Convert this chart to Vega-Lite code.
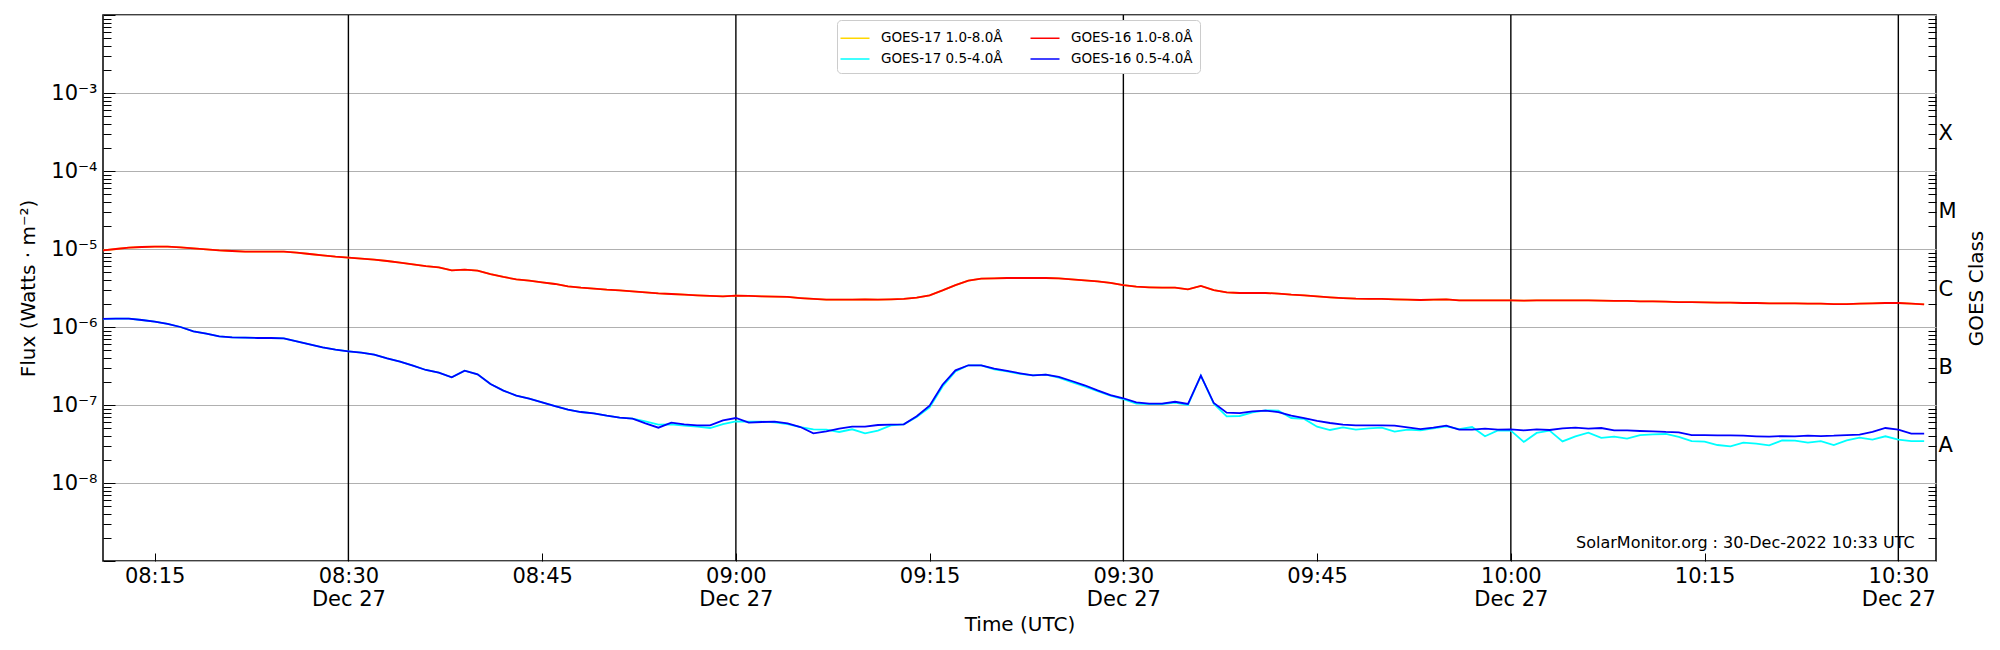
{
  "$schema": "https://vega.github.io/schema/vega-lite/v6.json",
  "width": 1833,
  "height": 546,
  "autosize": "none",
  "padding": {"left": 103, "top": 15, "right": 64, "bottom": 89},
  "background": "white",
  "config": {
    "font": "DejaVu Sans",
    "view": {"stroke": "black", "strokeWidth": 1.5},
    "axis": {"labelColor": "black", "titleColor": "black", "tickColor": "black", "titleFontWeight": "normal", "labelFont": "DejaVu Sans", "titleFont": "DejaVu Sans"}
  },
  "data": {
    "values": [
      {"t": "2022-12-27T08:11:00Z", "g17l": 9.61e-6, "g16l": 9.61e-6, "g17s": 1.27e-6, "g16s": 1.27e-6},
      {"t": "2022-12-27T08:12:00Z", "g17l": 1.0e-5, "g16l": 1.0e-5, "g17s": 1.28e-6, "g16s": 1.28e-6},
      {"t": "2022-12-27T08:13:00Z", "g17l": 1.04e-5, "g16l": 1.04e-5, "g17s": 1.28e-6, "g16s": 1.28e-6},
      {"t": "2022-12-27T08:14:00Z", "g17l": 1.061e-5, "g16l": 1.061e-5, "g17s": 1.23e-6, "g16s": 1.23e-6},
      {"t": "2022-12-27T08:15:00Z", "g17l": 1.071e-5, "g16l": 1.071e-5, "g17s": 1.17e-6, "g16s": 1.17e-6},
      {"t": "2022-12-27T08:16:00Z", "g17l": 1.071e-5, "g16l": 1.071e-5, "g17s": 1.1e-6, "g16s": 1.1e-6},
      {"t": "2022-12-27T08:17:00Z", "g17l": 1.05e-5, "g16l": 1.05e-5, "g17s": 1.0e-6, "g16s": 1.0e-6},
      {"t": "2022-12-27T08:18:00Z", "g17l": 1.02e-5, "g16l": 1.02e-5, "g17s": 8.8e-7, "g16s": 8.8e-7},
      {"t": "2022-12-27T08:19:00Z", "g17l": 9.9e-6, "g16l": 9.9e-6, "g17s": 8.22e-7, "g16s": 8.22e-7},
      {"t": "2022-12-27T08:20:00Z", "g17l": 9.61e-6, "g16l": 9.61e-6, "g17s": 7.59e-7, "g16s": 7.59e-7},
      {"t": "2022-12-27T08:21:00Z", "g17l": 9.43e-6, "g16l": 9.43e-6, "g17s": 7.37e-7, "g16s": 7.37e-7},
      {"t": "2022-12-27T08:22:00Z", "g17l": 9.24e-6, "g16l": 9.24e-6, "g17s": 7.3e-7, "g16s": 7.3e-7},
      {"t": "2022-12-27T08:23:00Z", "g17l": 9.24e-6, "g16l": 9.24e-6, "g17s": 7.23e-7, "g16s": 7.23e-7},
      {"t": "2022-12-27T08:24:00Z", "g17l": 9.24e-6, "g16l": 9.24e-6, "g17s": 7.23e-7, "g16s": 7.23e-7},
      {"t": "2022-12-27T08:25:00Z", "g17l": 9.24e-6, "g16l": 9.24e-6, "g17s": 7.16e-7, "g16s": 7.16e-7},
      {"t": "2022-12-27T08:26:00Z", "g17l": 8.97e-6, "g16l": 8.97e-6, "g17s": 6.55e-7, "g16s": 6.55e-7},
      {"t": "2022-12-27T08:27:00Z", "g17l": 8.63e-6, "g16l": 8.63e-6, "g17s": 6.0e-7, "g16s": 6.0e-7},
      {"t": "2022-12-27T08:28:00Z", "g17l": 8.29e-6, "g16l": 8.29e-6, "g17s": 5.48e-7, "g16s": 5.48e-7},
      {"t": "2022-12-27T08:29:00Z", "g17l": 7.97e-6, "g16l": 7.97e-6, "g17s": 5.12e-7, "g16s": 5.12e-7},
      {"t": "2022-12-27T08:30:00Z", "g17l": 7.74e-6, "g16l": 7.74e-6, "g17s": 4.88e-7, "g16s": 4.88e-7},
      {"t": "2022-12-27T08:31:00Z", "g17l": 7.52e-6, "g16l": 7.52e-6, "g17s": 4.69e-7, "g16s": 4.69e-7},
      {"t": "2022-12-27T08:32:00Z", "g17l": 7.3e-6, "g16l": 7.3e-6, "g17s": 4.42e-7, "g16s": 4.42e-7},
      {"t": "2022-12-27T08:33:00Z", "g17l": 7.02e-6, "g16l": 7.02e-6, "g17s": 3.97e-7, "g16s": 3.97e-7},
      {"t": "2022-12-27T08:34:00Z", "g17l": 6.68e-6, "g16l": 6.68e-6, "g17s": 3.6e-7, "g16s": 3.6e-7},
      {"t": "2022-12-27T08:35:00Z", "g17l": 6.36e-6, "g16l": 6.36e-6, "g17s": 3.19e-7, "g16s": 3.19e-7},
      {"t": "2022-12-27T08:36:00Z", "g17l": 6.05e-6, "g16l": 6.05e-6, "g17s": 2.81e-7, "g16s": 2.81e-7},
      {"t": "2022-12-27T08:37:00Z", "g17l": 5.82e-6, "g16l": 5.82e-6, "g17s": 2.6e-7, "g16s": 2.6e-7},
      {"t": "2022-12-27T08:38:00Z", "g17l": 5.33e-6, "g16l": 5.33e-6, "g17s": 2.26e-7, "g16s": 2.26e-7},
      {"t": "2022-12-27T08:39:00Z", "g17l": 5.43e-6, "g16l": 5.43e-6, "g17s": 2.75e-7, "g16s": 2.75e-7},
      {"t": "2022-12-27T08:40:00Z", "g17l": 5.28e-6, "g16l": 5.28e-6, "g17s": 2.47e-7, "g16s": 2.47e-7},
      {"t": "2022-12-27T08:41:00Z", "g17l": 4.78e-6, "g16l": 4.78e-6, "g17s": 1.86e-7, "g16s": 1.86e-7},
      {"t": "2022-12-27T08:42:00Z", "g17l": 4.38e-6, "g16l": 4.38e-6, "g17s": 1.53e-7, "g16s": 1.53e-7},
      {"t": "2022-12-27T08:43:00Z", "g17l": 4.08e-6, "g16l": 4.08e-6, "g17s": 1.32e-7, "g16s": 1.32e-7},
      {"t": "2022-12-27T08:44:00Z", "g17l": 3.93e-6, "g16l": 3.93e-6, "g17s": 1.21e-7, "g16s": 1.21e-7},
      {"t": "2022-12-27T08:45:00Z", "g17l": 3.74e-6, "g16l": 3.74e-6, "g17s": 1.08e-7, "g16s": 1.08e-7},
      {"t": "2022-12-27T08:46:00Z", "g17l": 3.56e-6, "g16l": 3.56e-6, "g17s": 9.7e-8, "g16s": 9.7e-8},
      {"t": "2022-12-27T08:47:00Z", "g17l": 3.32e-6, "g16l": 3.32e-6, "g17s": 8.71e-8, "g16s": 8.71e-8},
      {"t": "2022-12-27T08:48:00Z", "g17l": 3.19e-6, "g16l": 3.19e-6, "g17s": 8.13e-8, "g16s": 8.13e-8},
      {"t": "2022-12-27T08:49:00Z", "g17l": 3.1e-6, "g16l": 3.1e-6, "g17s": 7.82e-8, "g16s": 7.82e-8},
      {"t": "2022-12-27T08:50:00Z", "g17l": 3.01e-6, "g16l": 3.01e-6, "g17s": 7.3e-8, "g16s": 7.3e-8},
      {"t": "2022-12-27T08:51:00Z", "g17l": 2.95e-6, "g16l": 2.95e-6, "g17s": 6.89e-8, "g16s": 6.89e-8},
      {"t": "2022-12-27T08:52:00Z", "g17l": 2.87e-6, "g16l": 2.87e-6, "g17s": 6.68e-8, "g16s": 6.68e-8},
      {"t": "2022-12-27T08:53:00Z", "g17l": 2.78e-6, "g16l": 2.78e-6, "g17s": 6.18e-8, "g16s": 5.82e-8},
      {"t": "2022-12-27T08:54:00Z", "g17l": 2.7e-6, "g16l": 2.7e-6, "g17s": 5.6e-8, "g16s": 5.12e-8},
      {"t": "2022-12-27T08:55:00Z", "g17l": 2.65e-6, "g16l": 2.65e-6, "g17s": 5.65e-8, "g16s": 5.94e-8},
      {"t": "2022-12-27T08:56:00Z", "g17l": 2.6e-6, "g16l": 2.6e-6, "g17s": 5.43e-8, "g16s": 5.65e-8},
      {"t": "2022-12-27T08:57:00Z", "g17l": 2.55e-6, "g16l": 2.55e-6, "g17s": 5.27e-8, "g16s": 5.48e-8},
      {"t": "2022-12-27T08:58:00Z", "g17l": 2.5e-6, "g16l": 2.5e-6, "g17s": 5.07e-8, "g16s": 5.48e-8},
      {"t": "2022-12-27T08:59:00Z", "g17l": 2.47e-6, "g16l": 2.47e-6, "g17s": 5.7e-8, "g16s": 6.35e-8},
      {"t": "2022-12-27T09:00:00Z", "g17l": 2.52e-6, "g16l": 2.52e-6, "g17s": 6.18e-8, "g16s": 6.81e-8},
      {"t": "2022-12-27T09:01:00Z", "g17l": 2.5e-6, "g16l": 2.5e-6, "g17s": 6.11e-8, "g16s": 5.94e-8},
      {"t": "2022-12-27T09:02:00Z", "g17l": 2.47e-6, "g16l": 2.47e-6, "g17s": 6.11e-8, "g16s": 6.05e-8},
      {"t": "2022-12-27T09:03:00Z", "g17l": 2.45e-6, "g16l": 2.45e-6, "g17s": 6.0e-8, "g16s": 6.11e-8},
      {"t": "2022-12-27T09:04:00Z", "g17l": 2.43e-6, "g16l": 2.43e-6, "g17s": 5.7e-8, "g16s": 5.82e-8},
      {"t": "2022-12-27T09:05:00Z", "g17l": 2.35e-6, "g16l": 2.35e-6, "g17s": 5.22e-8, "g16s": 5.22e-8},
      {"t": "2022-12-27T09:06:00Z", "g17l": 2.29e-6, "g16l": 2.29e-6, "g17s": 4.88e-8, "g16s": 4.34e-8},
      {"t": "2022-12-27T09:07:00Z", "g17l": 2.24e-6, "g16l": 2.24e-6, "g17s": 4.83e-8, "g16s": 4.59e-8},
      {"t": "2022-12-27T09:08:00Z", "g17l": 2.24e-6, "g16l": 2.24e-6, "g17s": 4.51e-8, "g16s": 4.98e-8},
      {"t": "2022-12-27T09:09:00Z", "g17l": 2.24e-6, "g16l": 2.24e-6, "g17s": 4.88e-8, "g16s": 5.27e-8},
      {"t": "2022-12-27T09:10:00Z", "g17l": 2.26e-6, "g16l": 2.26e-6, "g17s": 4.34e-8, "g16s": 5.27e-8},
      {"t": "2022-12-27T09:11:00Z", "g17l": 2.24e-6, "g16l": 2.24e-6, "g17s": 4.69e-8, "g16s": 5.54e-8},
      {"t": "2022-12-27T09:12:00Z", "g17l": 2.26e-6, "g16l": 2.26e-6, "g17s": 5.48e-8, "g16s": 5.6e-8},
      {"t": "2022-12-27T09:13:00Z", "g17l": 2.29e-6, "g16l": 2.29e-6, "g17s": 5.65e-8, "g16s": 5.65e-8},
      {"t": "2022-12-27T09:14:00Z", "g17l": 2.38e-6, "g16l": 2.38e-6, "g17s": 7.02e-8, "g16s": 7.16e-8},
      {"t": "2022-12-27T09:15:00Z", "g17l": 2.55e-6, "g16l": 2.55e-6, "g17s": 9.33e-8, "g16s": 9.8e-8},
      {"t": "2022-12-27T09:16:00Z", "g17l": 2.95e-6, "g16l": 2.95e-6, "g17s": 1.73e-7, "g16s": 1.82e-7},
      {"t": "2022-12-27T09:17:00Z", "g17l": 3.45e-6, "g16l": 3.45e-6, "g17s": 2.7e-7, "g16s": 2.78e-7},
      {"t": "2022-12-27T09:18:00Z", "g17l": 3.93e-6, "g16l": 3.93e-6, "g17s": 3.23e-7, "g16s": 3.23e-7},
      {"t": "2022-12-27T09:19:00Z", "g17l": 4.17e-6, "g16l": 4.17e-6, "g17s": 3.23e-7, "g16s": 3.23e-7},
      {"t": "2022-12-27T09:20:00Z", "g17l": 4.21e-6, "g16l": 4.21e-6, "g17s": 2.86e-7, "g16s": 2.92e-7},
      {"t": "2022-12-27T09:21:00Z", "g17l": 4.25e-6, "g16l": 4.25e-6, "g17s": 2.7e-7, "g16s": 2.73e-7},
      {"t": "2022-12-27T09:22:00Z", "g17l": 4.25e-6, "g16l": 4.25e-6, "g17s": 2.5e-7, "g16s": 2.55e-7},
      {"t": "2022-12-27T09:23:00Z", "g17l": 4.25e-6, "g16l": 4.25e-6, "g17s": 2.4e-7, "g16s": 2.4e-7},
      {"t": "2022-12-27T09:24:00Z", "g17l": 4.25e-6, "g16l": 4.25e-6, "g17s": 2.45e-7, "g16s": 2.45e-7},
      {"t": "2022-12-27T09:25:00Z", "g17l": 4.21e-6, "g16l": 4.21e-6, "g17s": 2.24e-7, "g16s": 2.29e-7},
      {"t": "2022-12-27T09:26:00Z", "g17l": 4.08e-6, "g16l": 4.08e-6, "g17s": 1.97e-7, "g16s": 2.03e-7},
      {"t": "2022-12-27T09:27:00Z", "g17l": 3.97e-6, "g16l": 3.97e-6, "g17s": 1.73e-7, "g16s": 1.79e-7},
      {"t": "2022-12-27T09:28:00Z", "g17l": 3.85e-6, "g16l": 3.85e-6, "g17s": 1.5e-7, "g16s": 1.54e-7},
      {"t": "2022-12-27T09:29:00Z", "g17l": 3.67e-6, "g16l": 3.67e-6, "g17s": 1.32e-7, "g16s": 1.34e-7},
      {"t": "2022-12-27T09:30:00Z", "g17l": 3.45e-6, "g16l": 3.45e-6, "g17s": 1.19e-7, "g16s": 1.22e-7},
      {"t": "2022-12-27T09:31:00Z", "g17l": 3.29e-6, "g16l": 3.29e-6, "g17s": 1.04e-7, "g16s": 1.08e-7},
      {"t": "2022-12-27T09:32:00Z", "g17l": 3.23e-6, "g16l": 3.23e-6, "g17s": 1.03e-7, "g16s": 1.04e-7},
      {"t": "2022-12-27T09:33:00Z", "g17l": 3.19e-6, "g16l": 3.19e-6, "g17s": 1.03e-7, "g16s": 1.04e-7},
      {"t": "2022-12-27T09:34:00Z", "g17l": 3.19e-6, "g16l": 3.19e-6, "g17s": 1.07e-7, "g16s": 1.1e-7},
      {"t": "2022-12-27T09:35:00Z", "g17l": 3.04e-6, "g16l": 3.04e-6, "g17s": 1.0e-7, "g16s": 1.03e-7},
      {"t": "2022-12-27T09:36:00Z", "g17l": 3.36e-6, "g16l": 3.36e-6, "g17s": 2.38e-7, "g16s": 2.38e-7},
      {"t": "2022-12-27T09:37:00Z", "g17l": 2.98e-6, "g16l": 2.98e-6, "g17s": 1.04e-7, "g16s": 1.06e-7},
      {"t": "2022-12-27T09:38:00Z", "g17l": 2.78e-6, "g16l": 2.78e-6, "g17s": 7.16e-8, "g16s": 7.97e-8},
      {"t": "2022-12-27T09:39:00Z", "g17l": 2.73e-6, "g16l": 2.73e-6, "g17s": 7.23e-8, "g16s": 7.89e-8},
      {"t": "2022-12-27T09:40:00Z", "g17l": 2.73e-6, "g16l": 2.73e-6, "g17s": 8.05e-8, "g16s": 8.3e-8},
      {"t": "2022-12-27T09:41:00Z", "g17l": 2.73e-6, "g16l": 2.73e-6, "g17s": 8.55e-8, "g16s": 8.46e-8},
      {"t": "2022-12-27T09:42:00Z", "g17l": 2.68e-6, "g16l": 2.68e-6, "g17s": 8.46e-8, "g16s": 8.13e-8},
      {"t": "2022-12-27T09:43:00Z", "g17l": 2.6e-6, "g16l": 2.6e-6, "g17s": 6.81e-8, "g16s": 7.3e-8},
      {"t": "2022-12-27T09:44:00Z", "g17l": 2.55e-6, "g16l": 2.55e-6, "g17s": 6.62e-8, "g16s": 6.81e-8},
      {"t": "2022-12-27T09:45:00Z", "g17l": 2.47e-6, "g16l": 2.47e-6, "g17s": 5.27e-8, "g16s": 6.24e-8},
      {"t": "2022-12-27T09:46:00Z", "g17l": 2.4e-6, "g16l": 2.4e-6, "g17s": 4.78e-8, "g16s": 5.88e-8},
      {"t": "2022-12-27T09:47:00Z", "g17l": 2.35e-6, "g16l": 2.35e-6, "g17s": 5.17e-8, "g16s": 5.6e-8},
      {"t": "2022-12-27T09:48:00Z", "g17l": 2.31e-6, "g16l": 2.31e-6, "g17s": 4.83e-8, "g16s": 5.48e-8},
      {"t": "2022-12-27T09:49:00Z", "g17l": 2.29e-6, "g16l": 2.29e-6, "g17s": 5.02e-8, "g16s": 5.48e-8},
      {"t": "2022-12-27T09:50:00Z", "g17l": 2.29e-6, "g16l": 2.29e-6, "g17s": 5.12e-8, "g16s": 5.48e-8},
      {"t": "2022-12-27T09:51:00Z", "g17l": 2.26e-6, "g16l": 2.26e-6, "g17s": 4.55e-8, "g16s": 5.43e-8},
      {"t": "2022-12-27T09:52:00Z", "g17l": 2.24e-6, "g16l": 2.24e-6, "g17s": 4.83e-8, "g16s": 5.17e-8},
      {"t": "2022-12-27T09:53:00Z", "g17l": 2.22e-6, "g16l": 2.22e-6, "g17s": 4.73e-8, "g16s": 4.92e-8},
      {"t": "2022-12-27T09:54:00Z", "g17l": 2.24e-6, "g16l": 2.24e-6, "g17s": 5.02e-8, "g16s": 5.12e-8},
      {"t": "2022-12-27T09:55:00Z", "g17l": 2.26e-6, "g16l": 2.26e-6, "g17s": 5.32e-8, "g16s": 5.43e-8},
      {"t": "2022-12-27T09:56:00Z", "g17l": 2.2e-6, "g16l": 2.2e-6, "g17s": 4.92e-8, "g16s": 4.83e-8},
      {"t": "2022-12-27T09:57:00Z", "g17l": 2.2e-6, "g16l": 2.2e-6, "g17s": 5.22e-8, "g16s": 4.83e-8},
      {"t": "2022-12-27T09:58:00Z", "g17l": 2.2e-6, "g16l": 2.2e-6, "g17s": 3.97e-8, "g16s": 4.98e-8},
      {"t": "2022-12-27T09:59:00Z", "g17l": 2.2e-6, "g16l": 2.2e-6, "g17s": 4.73e-8, "g16s": 4.83e-8},
      {"t": "2022-12-27T10:00:00Z", "g17l": 2.2e-6, "g16l": 2.2e-6, "g17s": 4.69e-8, "g16s": 4.88e-8},
      {"t": "2022-12-27T10:01:00Z", "g17l": 2.18e-6, "g16l": 2.18e-6, "g17s": 3.36e-8, "g16s": 4.73e-8},
      {"t": "2022-12-27T10:02:00Z", "g17l": 2.2e-6, "g16l": 2.2e-6, "g17s": 4.38e-8, "g16s": 4.88e-8},
      {"t": "2022-12-27T10:03:00Z", "g17l": 2.2e-6, "g16l": 2.2e-6, "g17s": 4.69e-8, "g16s": 4.78e-8},
      {"t": "2022-12-27T10:04:00Z", "g17l": 2.2e-6, "g16l": 2.2e-6, "g17s": 3.42e-8, "g16s": 5.02e-8},
      {"t": "2022-12-27T10:05:00Z", "g17l": 2.2e-6, "g16l": 2.2e-6, "g17s": 3.97e-8, "g16s": 5.12e-8},
      {"t": "2022-12-27T10:06:00Z", "g17l": 2.2e-6, "g16l": 2.2e-6, "g17s": 4.42e-8, "g16s": 4.98e-8},
      {"t": "2022-12-27T10:07:00Z", "g17l": 2.18e-6, "g16l": 2.18e-6, "g17s": 3.78e-8, "g16s": 5.07e-8},
      {"t": "2022-12-27T10:08:00Z", "g17l": 2.16e-6, "g16l": 2.16e-6, "g17s": 3.93e-8, "g16s": 4.73e-8},
      {"t": "2022-12-27T10:09:00Z", "g17l": 2.16e-6, "g16l": 2.16e-6, "g17s": 3.7e-8, "g16s": 4.73e-8},
      {"t": "2022-12-27T10:10:00Z", "g17l": 2.13e-6, "g16l": 2.13e-6, "g17s": 4.12e-8, "g16s": 4.64e-8},
      {"t": "2022-12-27T10:11:00Z", "g17l": 2.13e-6, "g16l": 2.13e-6, "g17s": 4.21e-8, "g16s": 4.59e-8},
      {"t": "2022-12-27T10:12:00Z", "g17l": 2.11e-6, "g16l": 2.11e-6, "g17s": 4.25e-8, "g16s": 4.51e-8},
      {"t": "2022-12-27T10:13:00Z", "g17l": 2.09e-6, "g16l": 2.09e-6, "g17s": 3.89e-8, "g16s": 4.47e-8},
      {"t": "2022-12-27T10:14:00Z", "g17l": 2.09e-6, "g16l": 2.09e-6, "g17s": 3.45e-8, "g16s": 4.12e-8},
      {"t": "2022-12-27T10:15:00Z", "g17l": 2.07e-6, "g16l": 2.07e-6, "g17s": 3.39e-8, "g16s": 4.12e-8},
      {"t": "2022-12-27T10:16:00Z", "g17l": 2.05e-6, "g16l": 2.05e-6, "g17s": 3.07e-8, "g16s": 4.08e-8},
      {"t": "2022-12-27T10:17:00Z", "g17l": 2.05e-6, "g16l": 2.05e-6, "g17s": 2.95e-8, "g16s": 4.08e-8},
      {"t": "2022-12-27T10:18:00Z", "g17l": 2.03e-6, "g16l": 2.03e-6, "g17s": 3.29e-8, "g16s": 4.04e-8},
      {"t": "2022-12-27T10:19:00Z", "g17l": 2.03e-6, "g16l": 2.03e-6, "g17s": 3.19e-8, "g16s": 3.97e-8},
      {"t": "2022-12-27T10:20:00Z", "g17l": 2.01e-6, "g16l": 2.01e-6, "g17s": 3.04e-8, "g16s": 3.93e-8},
      {"t": "2022-12-27T10:21:00Z", "g17l": 2.01e-6, "g16l": 2.01e-6, "g17s": 3.52e-8, "g16s": 4.0e-8},
      {"t": "2022-12-27T10:22:00Z", "g17l": 2.01e-6, "g16l": 2.01e-6, "g17s": 3.49e-8, "g16s": 3.97e-8},
      {"t": "2022-12-27T10:23:00Z", "g17l": 1.99e-6, "g16l": 1.99e-6, "g17s": 3.29e-8, "g16s": 4.04e-8},
      {"t": "2022-12-27T10:24:00Z", "g17l": 1.99e-6, "g16l": 1.99e-6, "g17s": 3.45e-8, "g16s": 4.0e-8},
      {"t": "2022-12-27T10:25:00Z", "g17l": 1.97e-6, "g16l": 1.97e-6, "g17s": 3.07e-8, "g16s": 4.04e-8},
      {"t": "2022-12-27T10:26:00Z", "g17l": 1.97e-6, "g16l": 1.97e-6, "g17s": 3.52e-8, "g16s": 4.12e-8},
      {"t": "2022-12-27T10:27:00Z", "g17l": 1.99e-6, "g16l": 1.99e-6, "g17s": 3.81e-8, "g16s": 4.17e-8},
      {"t": "2022-12-27T10:28:00Z", "g17l": 2.01e-6, "g16l": 2.01e-6, "g17s": 3.6e-8, "g16s": 4.51e-8},
      {"t": "2022-12-27T10:29:00Z", "g17l": 2.03e-6, "g16l": 2.03e-6, "g17s": 3.97e-8, "g16s": 5.07e-8},
      {"t": "2022-12-27T10:30:00Z", "g17l": 2.03e-6, "g16l": 2.03e-6, "g17s": 3.6e-8, "g16s": 4.83e-8},
      {"t": "2022-12-27T10:31:00Z", "g17l": 1.99e-6, "g16l": 1.99e-6, "g17s": 3.45e-8, "g16s": 4.29e-8},
      {"t": "2022-12-27T10:32:00Z", "g17l": 1.95e-6, "g16l": 1.95e-6, "g17s": 3.45e-8, "g16s": 4.29e-8}
    ]
  },
  "layer": [
    {
      "data": {
        "values": [
          {"v": "2022-12-27T08:30:00Z"},
          {"v": "2022-12-27T09:00:00Z"},
          {"v": "2022-12-27T09:30:00Z"},
          {"v": "2022-12-27T10:00:00Z"},
          {"v": "2022-12-27T10:30:00Z"}
        ]
      },
      "mark": {"type": "rule", "color": "black", "strokeWidth": 1.4},
      "encoding": {
        "x": {"field": "v", "type": "temporal"}
      }
    },
    {
      "transform": [
        {"fold": ["g17l", "g17s", "g16l", "g16s"], "as": ["series", "flux"]}
      ],
      "mark": {"type": "line", "strokeWidth": 1.8, "clip": true},
      "encoding": {
        "x": {
          "field": "t",
          "type": "temporal",
          "scale": {
            "type": "utc",
            "domain": [
              {"year": 2022, "month": 12, "date": 27, "hours": 8, "minutes": 11, "utc": true},
              {"year": 2022, "month": 12, "date": 27, "hours": 10, "minutes": 32, "seconds": 55, "utc": true}
            ]
          },
          "axis": {
            "title": "Time (UTC)",
            "titleFontSize": 20,
            "titlePadding": 5,
            "labelFontSize": 21,
            "labelLineHeight": 23,
            "labelPadding": 12,
            "labelFlush": false,
            "labelOverlap": false,
            "tickSize": -8,
            "tickWidth": 1,
            "domain": false,
            "grid": false,
            "values": [
              {"year": 2022, "month": 12, "date": 27, "hours": 8, "minutes": 15, "utc": true},
              {"year": 2022, "month": 12, "date": 27, "hours": 8, "minutes": 30, "utc": true},
              {"year": 2022, "month": 12, "date": 27, "hours": 8, "minutes": 45, "utc": true},
              {"year": 2022, "month": 12, "date": 27, "hours": 9, "minutes": 0, "utc": true},
              {"year": 2022, "month": 12, "date": 27, "hours": 9, "minutes": 15, "utc": true},
              {"year": 2022, "month": 12, "date": 27, "hours": 9, "minutes": 30, "utc": true},
              {"year": 2022, "month": 12, "date": 27, "hours": 9, "minutes": 45, "utc": true},
              {"year": 2022, "month": 12, "date": 27, "hours": 10, "minutes": 0, "utc": true},
              {"year": 2022, "month": 12, "date": 27, "hours": 10, "minutes": 15, "utc": true},
              {"year": 2022, "month": 12, "date": 27, "hours": 10, "minutes": 30, "utc": true}
            ],
            "labelExpr": "utcminutes(datum.value) % 30 == 0 ? [utcFormat(datum.value, '%H:%M'), 'Dec 27'] : utcFormat(datum.value, '%H:%M')"
          }
        },
        "y": {
          "field": "flux",
          "type": "quantitative",
          "scale": {"type": "log", "domain": [1e-9, 1e-2], "nice": false},
          "axis": {
            "orient": "left",
            "title": "Flux (Watts · m⁻²)",
            "titleFontSize": 20,
            "titlePadding": 12,
            "labelFontSize": 21,
            "labelPadding": 18,
            "labelFlush": false,
            "labelOverlap": false,
            "domain": false,
            "tickWidth": 1,
            "tickSize": {"condition": {"test": "indexof(format(datum.value, '.0e'), '1e') == 0", "value": -12}, "value": -8},
            "grid": true,
            "gridColor": "#b0b0b0",
            "gridWidth": 1.2,
            "gridOpacity": {"condition": {"test": "indexof(format(datum.value, '.0e'), '1e') == 0", "value": 1}, "value": 0},
            "values": [1e-9, 2e-9, 3e-9, 4e-9, 5e-9, 6e-9, 7e-9, 8e-9, 9e-9,
                       1e-8, 2e-8, 3e-8, 4e-8, 5e-8, 6e-8, 7e-8, 8e-8, 9e-8,
                       1e-7, 2e-7, 3e-7, 4e-7, 5e-7, 6e-7, 7e-7, 8e-7, 9e-7,
                       1e-6, 2e-6, 3e-6, 4e-6, 5e-6, 6e-6, 7e-6, 8e-6, 9e-6,
                       1e-5, 2e-5, 3e-5, 4e-5, 5e-5, 6e-5, 7e-5, 8e-5, 9e-5,
                       1e-4, 2e-4, 3e-4, 4e-4, 5e-4, 6e-4, 7e-4, 8e-4, 9e-4,
                       1e-3, 2e-3, 3e-3, 4e-3, 5e-3, 6e-3, 7e-3, 8e-3, 9e-3, 1e-2],
            "labelExpr": "datum.value == 1e-3 ? '10⁻³' : datum.value == 1e-4 ? '10⁻⁴' : datum.value == 1e-5 ? '10⁻⁵' : datum.value == 1e-6 ? '10⁻⁶' : datum.value == 1e-7 ? '10⁻⁷' : datum.value == 1e-8 ? '10⁻⁸' : ''"
          }
        },
        "color": {
          "field": "series",
          "type": "nominal",
          "scale": {
            "domain": ["g17l", "g16l", "g17s", "g16s"],
            "range": ["#ffd700", "#ff0000", "#00ffff", "#0000ff"]
          },
          "legend": {
            "orient": "none",
            "legendX": 734,
            "legendY": 5,
            "title": null,
            "columns": 2,
            "direction": "horizontal",
            "symbolType": "M-1.45,0H1.45",
            "symbolSize": 400,
            "symbolStrokeWidth": 1.5,
            "labelFontSize": 13.5,
            "labelOffset": 15,
            "labelColor": "black",
            "columnPadding": 24,
            "rowPadding": 3,
            "padding": 7,
            "strokeColor": "#cccccc",
            "fillColor": "white",
            "cornerRadius": 4,
            "labelExpr": "datum.label == 'g17l' ? 'GOES-17 1.0-8.0Å' : datum.label == 'g16l' ? 'GOES-16 1.0-8.0Å' : datum.label == 'g17s' ? 'GOES-17 0.5-4.0Å' : 'GOES-16 0.5-4.0Å'"
          }
        }
      }
    },
    {
      "data": {"values": [{"note": "SolarMonitor.org : 30-Dec-2022 10:33 UTC"}]},
      "mark": {"type": "text", "align": "right", "baseline": "alphabetic", "fontSize": 16, "color": "black"},
      "encoding": {
        "text": {"field": "note"},
        "x": {"datum": {"year": 2022, "month": 12, "date": 27, "hours": 10, "minutes": 31, "seconds": 16, "utc": true}, "type": "temporal"},
        "y": {
          "datum": 1.45e-9,
          "type": "quantitative",
          "axis": {
            "orient": "right",
            "title": "GOES Class",
            "titleAngle": 270,
            "titleFontSize": 20,
            "titlePadding": 30,
            "labelFontSize": 21,
            "labelPadding": 10,
            "labelFlush": false,
            "labelOverlap": false,
            "domain": false,
            "grid": false,
            "tickSize": -8,
            "tickWidth": 1,
            "values": [2e-9, 3e-9, 4e-9, 5e-9, 6e-9, 7e-9, 8e-9, 9e-9,
                       2e-8, 3e-8, 4e-8, 5e-8, 6e-8, 7e-8, 8e-8, 9e-8,
                       2e-7, 3e-7, 4e-7, 5e-7, 6e-7, 7e-7, 8e-7, 9e-7,
                       2e-6, 3e-6, 4e-6, 5e-6, 6e-6, 7e-6, 8e-6, 9e-6,
                       2e-5, 3e-5, 4e-5, 5e-5, 6e-5, 7e-5, 8e-5, 9e-5,
                       2e-4, 3e-4, 4e-4, 5e-4, 6e-4, 7e-4, 8e-4, 9e-4,
                       2e-3, 3e-3, 4e-3, 5e-3, 6e-3, 7e-3, 8e-3, 9e-3],
            "labelExpr": "datum.value == 3e-8 ? 'A' : datum.value == 3e-7 ? 'B' : datum.value == 3e-6 ? 'C' : datum.value == 3e-5 ? 'M' : datum.value == 3e-4 ? 'X' : ''"
          }
        }
      }
    }
  ],
  "resolve": {"axis": {"y": "independent"}}
}
